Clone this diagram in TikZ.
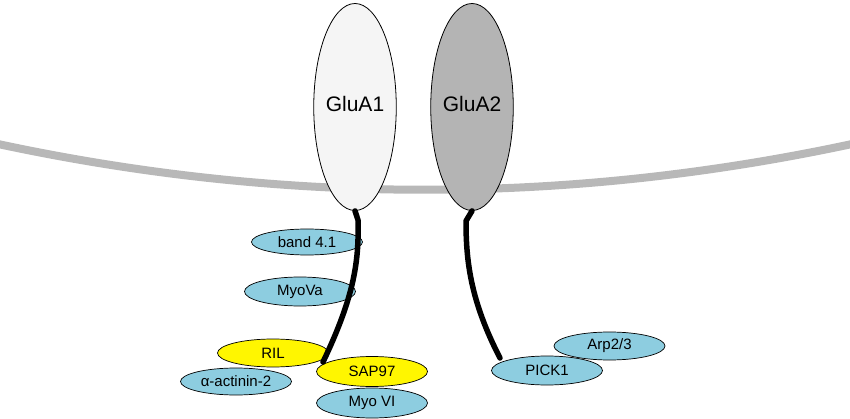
\documentclass[tikz,border=0pt]{standalone}
\usepackage{fontspec}
\setmainfont{Liberation Sans}
\usetikzlibrary{shapes.geometric}
\definecolor{membgray}{RGB}{184,184,184}
\definecolor{glua1fill}{RGB}{245,245,245}
\definecolor{glua2fill}{RGB}{180,180,180}
\definecolor{protblue}{RGB}{141,205,224}
\definecolor{protyellow}{RGB}{255,246,0}
\tikzset{
  receptor/.style={draw=black, line width=0.8pt, ellipse, minimum width=77pt, minimum height=207pt, inner sep=0pt, font=\fontsize{21}{24}\selectfont},
  prot/.style={draw=black, line width=0.7pt, ellipse, minimum width=111pt, minimum height=28pt, inner sep=0pt, font=\fontsize{15}{17}\selectfont},
  blueprot/.style={prot, fill=protblue},
  yellowprot/.style={prot, fill=protyellow},
  membrane/.style={draw=membgray, line width=8pt},
  tail/.style={draw=black, line width=5.5pt, line join=round, line cap=round}
}
\begin{document}
\begin{tikzpicture}[x=1pt,y=-1pt]
\useasboundingbox (0,0) rectangle (850,419);
% membrane
\coordinate (mL) at (-2,144);
\coordinate (mR) at (852,144);
\draw[membrane] (mL) .. controls (283,205) and (567,205) .. (mR);
% receptors
\node[receptor, fill=glua1fill] (glua1) at (355,107) {\raisebox{6pt}{GluA1}};
\node[receptor, fill=glua2fill] (glua2) at (472,107) {\raisebox{6pt}{GluA2}};
% interacting proteins
\node[blueprot, minimum height=26pt] (band) at (307,242) {band 4.1};
\node[blueprot, minimum height=29pt] (myova) at (300,291.5) {MyoVa};
\node[blueprot, minimum height=27pt] (actinin) at (236,381.5) {α-actinin-2};
\node[yellowprot] (ril) at (273,353) {RIL};
\node[blueprot, minimum height=30pt] (myovi) at (372,403) {Myo VI};
\node[yellowprot, minimum height=30pt] (sap) at (372,371.5) {SAP97};
\node[blueprot] (arp) at (609.5,346) {Arp2/3};
\node[blueprot, minimum height=29pt] (pick) at (547,370.5) {PICK1};
% tails
\coordinate (t1a) at (358,220);
\coordinate (t1end) at (323,362);
\draw[tail] (glua1.south) -- (t1a) .. controls (359,260) and (355,295) .. (t1end);
\coordinate (t2a) at (466,221);
\coordinate (t2end) at (500,358);
\draw[tail] (glua2.south) -- (t2a) .. controls (466,260) and (470,300) .. (t2end);
\end{tikzpicture}
\end{document}
